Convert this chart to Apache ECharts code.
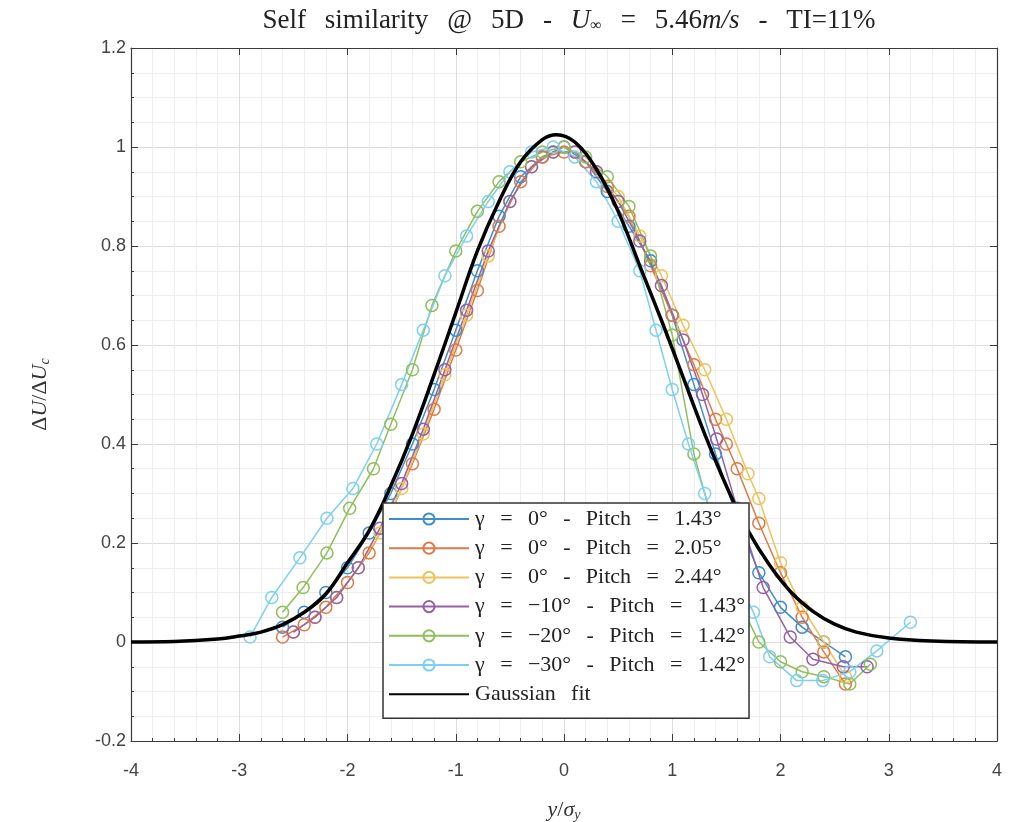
<!DOCTYPE html>
<html>
<head>
<meta charset="utf-8">
<script src="https://cdn.jsdelivr.net/npm/echarts@6/dist/echarts.min.js"></script>
<style>html,body{margin:0;padding:0;background:#fff}#c{width:1014px;height:822px}</style>
</head>
<body>
<div id="c"></div>
<script>
// ---- data ----
const seriesNames = [
  'γ = 0° - Pitch = 1.43°',
  'γ = 0° - Pitch = 2.05°',
  'γ = 0° - Pitch = 2.44°',
  'γ = −10° - Pitch = 1.43°',
  'γ = −20° - Pitch = 1.42°',
  'γ = −30° - Pitch = 1.42°'
];
const fitName = 'Gaussian fit';
const seriesColors = ['#3f8ecb', '#e07a45', '#eec25a', '#9460a6', '#8fbf5a', '#7dd0f2'];

const blue = [[-2.6,0.03],[-2.4,0.06],[-2.2,0.10],[-2.0,0.15],[-1.8,0.22],[-1.6,0.30],[-1.4,0.40],[-1.2,0.51],[-1.0,0.63],[-0.8,0.75],[-0.6,0.86],[-0.4,0.94],[-0.2,0.98],[0.0,1.0],[0.2,0.97],[0.4,0.91],[0.6,0.84],[0.8,0.77],[1.0,0.66],[1.2,0.52],[1.4,0.38],[1.6,0.25],[1.8,0.14],[2.0,0.07],[2.2,0.03],[2.4,0.0],[2.6,-0.03]];
const orange = [[-2.6,0.01],[-2.4,0.035],[-2.2,0.07],[-2.0,0.12],[-1.8,0.18],[-1.6,0.26],[-1.4,0.36],[-1.2,0.47],[-1.0,0.59],[-0.8,0.71],[-0.6,0.84],[-0.4,0.93],[-0.2,0.98],[0.0,0.99],[0.2,0.97],[0.4,0.92],[0.6,0.86],[0.8,0.76],[1.0,0.66],[1.2,0.56],[1.4,0.45],[1.5,0.40],[1.6,0.35],[1.8,0.24],[2.0,0.14],[2.2,0.05],[2.4,-0.02],[2.6,-0.085]];
const yellow = [[-2.5,0.02],[-2.3,0.05],[-2.1,0.09],[-1.9,0.15],[-1.7,0.22],[-1.5,0.31],[-1.3,0.42],[-1.1,0.54],[-0.9,0.66],[-0.7,0.78],[-0.5,0.89],[-0.3,0.96],[-0.1,0.99],[0.1,0.99],[0.3,0.95],[0.5,0.90],[0.7,0.82],[0.9,0.74],[1.1,0.64],[1.3,0.55],[1.5,0.45],[1.7,0.34],[1.8,0.29],[2.0,0.16],[2.2,0.07],[2.4,0.0],[2.6,-0.07]];
const purple = [[-2.5,0.02],[-2.3,0.05],[-2.1,0.09],[-1.9,0.15],[-1.7,0.23],[-1.5,0.32],[-1.3,0.43],[-1.1,0.55],[-0.9,0.67],[-0.7,0.79],[-0.5,0.89],[-0.3,0.96],[-0.1,0.99],[0.1,0.99],[0.3,0.95],[0.5,0.89],[0.7,0.81],[0.9,0.72],[1.1,0.61],[1.28,0.50],[1.41,0.41],[1.6,0.27],[1.84,0.11],[2.09,0.01],[2.3,-0.035],[2.58,-0.05],[2.8,-0.05]];
const green = [[-2.6,0.06],[-2.41,0.11],[-2.19,0.18],[-1.98,0.27],[-1.76,0.35],[-1.6,0.44],[-1.4,0.55],[-1.22,0.68],[-1.0,0.79],[-0.8,0.87],[-0.6,0.93],[-0.4,0.97],[-0.2,0.99],[0.0,1.0],[0.2,0.98],[0.4,0.94],[0.6,0.88],[0.8,0.78],[1.0,0.62],[1.2,0.38],[1.4,0.22],[1.6,0.09],[1.8,0.0],[2.0,-0.04],[2.2,-0.06],[2.4,-0.07],[2.64,-0.085],[2.83,-0.045]];
const cyan = [[-2.9,0.01],[-2.7,0.09],[-2.44,0.17],[-2.19,0.25],[-1.95,0.31],[-1.73,0.40],[-1.5,0.52],[-1.3,0.63],[-1.1,0.74],[-0.9,0.82],[-0.7,0.89],[-0.5,0.95],[-0.3,0.99],[-0.1,1.0],[0.1,0.98],[0.3,0.93],[0.5,0.85],[0.7,0.75],[0.85,0.63],[1.0,0.51],[1.15,0.40],[1.3,0.30],[1.5,0.17],[1.75,0.06],[1.9,-0.03],[2.15,-0.078],[2.39,-0.078],[2.64,-0.06],[2.89,-0.018],[3.2,0.04]];
const gaussFit = [[-4,0.0],[-3.6,0.001],[-3.2,0.006],[-3.0,0.012],[-2.8,0.02],[-2.6,0.035],[-2.4,0.06],[-2.2,0.097],[-2.0,0.16],[-1.8,0.225],[-1.6,0.315],[-1.4,0.42],[-1.2,0.54],[-1.0,0.665],[-0.8,0.79],[-0.6,0.89],[-0.4,0.97],[-0.2,1.015],[-0.07,1.025],[0.1,1.01],[0.3,0.955],[0.5,0.87],[0.7,0.76],[0.9,0.65],[1.1,0.535],[1.3,0.42],[1.5,0.315],[1.7,0.225],[1.9,0.155],[2.1,0.10],[2.3,0.062],[2.5,0.036],[2.7,0.02],[3.0,0.008],[3.4,0.002],[4,0.0]];

const xTicksMin = -4, xTicksMax = 4, xStep = 1;
const yTicksMin = -0.2, yTicksMax = 1.2, yStep = 0.2;

// ---- chart ----
const chart = echarts.init(document.getElementById('c'), null, {renderer: 'canvas'});
const serif = '"Liberation Serif", "DejaVu Serif", serif';
const sans = '"Liberation Sans", Arial, sans-serif';
const axisCol = '#3a3a3a';
const wide = s => s.split(' ').join('\u2002\u2009');

const dataSets = [blue, orange, yellow, purple, green, cyan];
const series = dataSets.map((d, i) => ({
  name: seriesNames[i],
  type: 'line',
  data: d,
  symbol: 'circle',
  symbolSize: 12,
  showAllSymbol: true,
  lineStyle: {color: seriesColors[i], width: 1.5},
  itemStyle: {color: 'rgba(255,255,255,0)', borderColor: seriesColors[i], borderWidth: 1.5},
  z: 2,
  animation: false
}));
series.push({
  name: fitName,
  type: 'line',
  data: gaussFit,
  smooth: 0.4,
  symbol: 'none',
  lineStyle: {color: '#000', width: 3.5},
  itemStyle: {color: '#000'},
  z: 3,
  animation: false
});

const legendData = seriesNames.map(n => ({name: n}));
legendData.push({name: fitName, itemStyle: {color: 'rgba(0,0,0,0)', borderWidth: 0, opacity: 0}});

const gridPos = {left: 131, right: 17, top: 48, bottom: 81, containLabel: false, outerBoundsMode: 'none'};
const baseX = {
  type: 'value', min: xTicksMin, max: xTicksMax, interval: xStep,
  axisLine: {show: true, onZero: false, lineStyle: {color: axisCol, width: 1.2}},
  axisTick: {show: true, inside: true, length: 7, lineStyle: {color: axisCol}},
};
const baseY = {
  type: 'value', min: yTicksMin, max: yTicksMax, interval: yStep,
  axisLine: {show: true, onZero: false, lineStyle: {color: axisCol, width: 1.2}},
  axisTick: {show: true, inside: true, length: 7, lineStyle: {color: axisCol}},
};
const nameRich = {
  a: {fontFamily: serif, fontSize: 22, color: '#333'},
  i: {fontFamily: serif, fontSize: 22, fontStyle: 'italic', color: '#333'},
  s: {fontFamily: serif, fontSize: 14, fontStyle: 'italic', color: '#333', verticalAlign: 'bottom', padding: [10, 0, 0, 0]}
};

chart.setOption({
  backgroundColor: '#fff',
  animation: false,
  title: {
    text: '{a|' + wide('Self similarity @ 5D - ') + '}{i|U}{s|∞}{a|' + wide(' = 5.46') + '}{i|m/s}{a|' + wide(' - TI=11%') + '}',
    left: 564, textAlign: 'center', top: 2,
    textStyle: {
      fontWeight: 'normal',
      rich: {
        a: {fontFamily: serif, fontSize: 27, fontWeight: 'normal', color: '#222'},
        i: {fontFamily: serif, fontSize: 27, fontStyle: 'italic', fontWeight: 'normal', color: '#222'},
        s: {fontFamily: serif, fontSize: 16, fontWeight: 'normal', color: '#222', verticalAlign: 'bottom', padding: [11, 0, 0, 0]}
      }
    }
  },
  grid: gridPos,
  legend: {
    data: legendData,
    orient: 'vertical',
    left: 383, top: 503,
    padding: [5, 4, 13, 5],
    itemWidth: 80, itemHeight: 14, itemGap: 7.2,
    backgroundColor: '#fff',
    borderColor: '#333', borderWidth: 1.5, borderRadius: 0,
    formatter: n => wide(n),
    textStyle: {fontFamily: serif, fontSize: 22, color: '#222', padding: [0, 0, 0, 1]},
    selectedMode: false
  },
  xAxis: [
    Object.assign({}, baseX, {
      position: 'bottom',
      name: '{i|y}{a|/}{i|σ}{s|y}', nameLocation: 'middle', nameGap: 57,
      nameTextStyle: {rich: nameRich},
      axisLabel: {fontFamily: sans, fontSize: 18, color: '#444', margin: 21},
      splitLine: {show: true, lineStyle: {color: '#dcdcdc', width: 1}},
      minorTick: {show: true, splitNumber: 5, length: 3, lineStyle: {color: axisCol}},
      minorSplitLine: {show: true, lineStyle: {color: '#eeeeee', width: 1}}
    }),
    Object.assign({}, baseX, {
      position: 'top',
      axisLabel: {show: false},
      splitLine: {show: false}
    })
  ],
  yAxis: [
    Object.assign({}, baseY, {
      position: 'left',
      name: '{a|Δ}{i|U}{a|/Δ}{i|U}{s|c}', nameLocation: 'middle', nameGap: 79, nameRotate: 90,
      nameTextStyle: {rich: nameRich},
      axisLabel: {fontFamily: sans, fontSize: 18, color: '#444', margin: 5},
      splitLine: {show: true, lineStyle: {color: '#dcdcdc', width: 1}},
      minorTick: {show: true, splitNumber: 4, length: 3, lineStyle: {color: axisCol}},
      minorSplitLine: {show: true, lineStyle: {color: '#eeeeee', width: 1}}
    }),
    Object.assign({}, baseY, {
      position: 'right',
      axisLabel: {show: false},
      splitLine: {show: false}
    })
  ],
  series: series
});
</script>
</body>
</html>
